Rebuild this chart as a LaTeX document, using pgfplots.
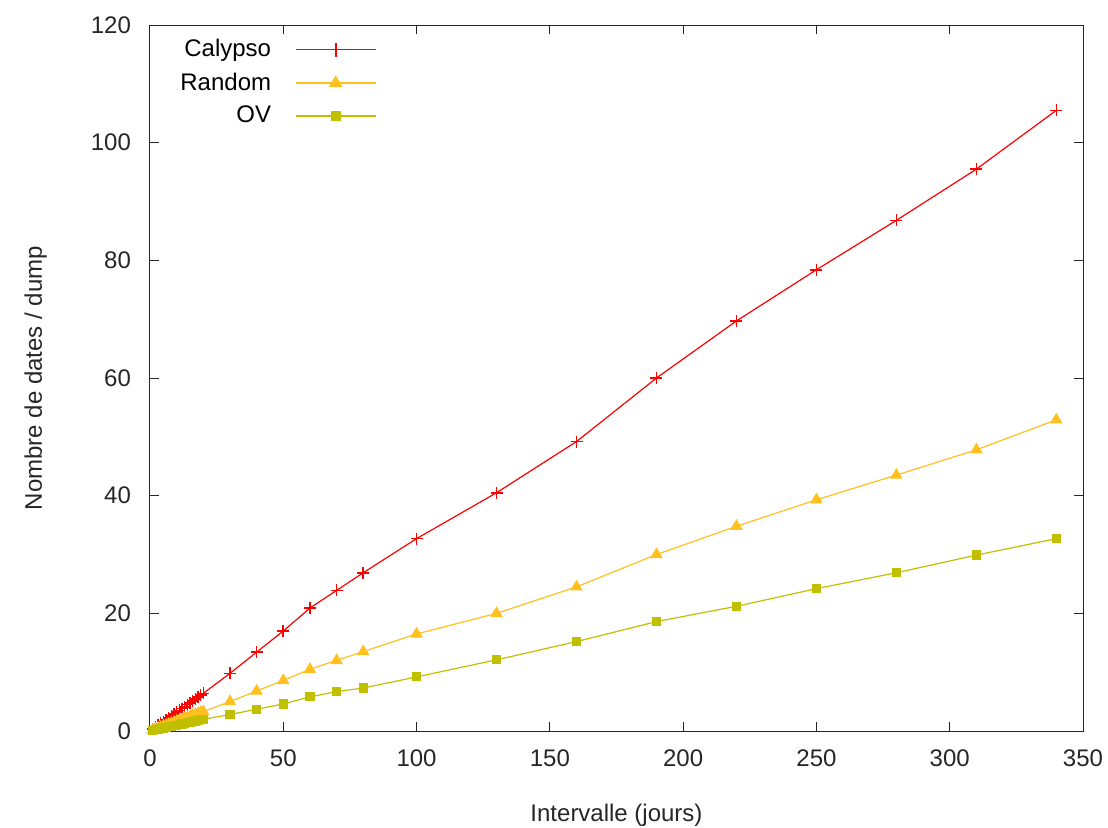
\documentclass[border=0pt]{standalone}
\usepackage{pgfplots}
\pgfplotsset{compat=1.18}
\usepackage{fontspec}
\setmainfont{Liberation Sans}
\definecolor{calc}{RGB}{255,0,0}
\definecolor{rndc}{RGB}{255,192,32}
\definecolor{ovc}{RGB}{192,192,0}
\begin{document}
\begin{tikzpicture}
\begin{axis}[
  name=ax,
  scale only axis,
  width=466.5pt, height=353pt,
  xmin=0, xmax=350, ymin=0, ymax=120,
  xtick={0,50,...,350}, ytick={0,20,...,120},
  tick align=inside,
  major tick length=4.5pt,
  axis line style={line width=0.5pt, black!85},
  every tick/.style={black!85, line width=0.5pt},
  tick label style={font=\fontsize{12}{14}\selectfont, text=black!85},
  /pgf/number format/assume math mode=true,
  xlabel={Intervalle (jours)},
  ylabel={Nombre de dates / dump},
  label style={font=\fontsize{12}{14}\selectfont, text=black!85},
  xlabel style={at={(axis description cs:0.5,0)}, anchor=north, yshift=-33pt},
  ylabel style={at={(axis description cs:0,0.5)}, anchor=south, yshift=48pt},
  xticklabel style={yshift=-6pt},
  yticklabel style={xshift=-6pt},
  legend plot pos=right,
  legend cell align=right,
  legend style={at={(axis description cs:0.0,1.0)}, anchor=north west, draw=none, fill=none,
    font=\fontsize{12}{14}\selectfont, row sep=2.5pt, xshift=10pt, yshift=-3pt},
  legend image code/.code={\path (0pt,0pt); \draw[mark repeat=2,mark phase=2,#1,line width=0.9pt] plot coordinates {(10pt,0pt) (30pt,0pt) (50pt,0pt)};},
]
\addplot[calc, line width=0.6pt, mark=+, mark size=3pt, mark options={calc, line width=0.8pt},
  legend image code/.code={\path (0pt,0pt); \draw[color=red, line width=0.9pt] (10pt,0pt) -- (50pt,0pt);
    \draw[color=red, line width=0.9pt] (30pt,-3.5pt) -- (30pt,3.5pt);}] coordinates {
(1,0.3)(2,0.6)(3,1.0)(4,1.3)(5,1.6)(6,1.9)(7,2.2)(8,2.6)(9,2.9)(10,3.2)
(11,3.5)(12,3.8)(13,4.1)(14,4.5)(15,4.8)(16,5.1)(17,5.4)(18,5.8)(19,6.1)(20,6.4)
(30,9.8)(40,13.4)(50,17.0)(60,20.9)(70,23.9)(80,26.9)(100,32.7)(130,40.5)(160,49.2)
(190,60.0)(220,69.7)(250,78.4)(280,86.8)(310,95.5)(340,105.5)};
\addlegendentry{Calypso}
\addplot[color=rndc, line width=0.6pt, mark=triangle*, mark size=3pt] coordinates {
(1,0.17)(2,0.33)(3,0.5)(4,0.66)(5,0.83)(6,1.0)(7,1.16)(8,1.33)(9,1.5)(10,1.66)
(11,1.82)(12,2.0)(13,2.15)(14,2.32)(15,2.5)(16,2.65)(17,2.82)(18,3.0)(19,3.15)(20,3.3)
(30,5.0)(40,6.8)(50,8.6)(60,10.5)(70,12.0)(80,13.5)(100,16.5)(130,20.0)(160,24.5)
(190,30.0)(220,34.8)(250,39.3)(280,43.5)(310,47.8)(340,52.9)};
\addlegendentry{Random}
\addplot[color=ovc, line width=0.6pt, mark=square*, mark size=2pt] coordinates {
(1,0.1)(2,0.2)(3,0.3)(4,0.4)(5,0.5)(6,0.6)(7,0.7)(8,0.8)(9,0.9)(10,1.0)
(11,1.1)(12,1.2)(13,1.3)(14,1.4)(15,1.5)(16,1.6)(17,1.7)(18,1.8)(19,1.9)(20,2.0)
(30,2.8)(40,3.7)(50,4.6)(60,5.8)(70,6.7)(80,7.3)(100,9.2)(130,12.1)(160,15.2)
(190,18.6)(220,21.2)(250,24.2)(280,26.9)(310,29.9)(340,32.7)};
\addlegendentry{OV}
\end{axis}
\pgfresetboundingbox
\path ([shift={(-75pt,-48pt)}]ax.south west) rectangle ([shift={(12.5pt,12.5pt)}]ax.north east);
\end{tikzpicture}
\end{document}
